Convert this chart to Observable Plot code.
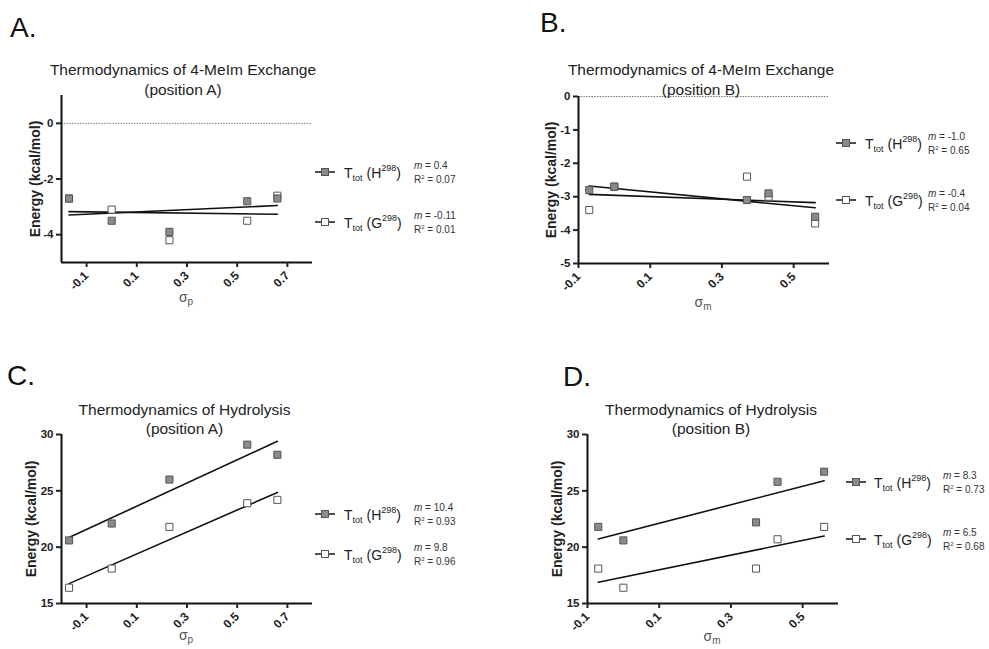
<!DOCTYPE html>
<html><head><meta charset="utf-8">
<script src="https://cdn.jsdelivr.net/npm/d3@7"></script>
<script src="https://cdn.jsdelivr.net/npm/@observablehq/plot@0.6"></script>
<style>
body{margin:0;background:#fff;}
#wrap{position:relative;width:989px;height:649px;overflow:hidden;font-family:"Liberation Sans",Arial,sans-serif;background:#fff;}
#wrap > svg{position:absolute;}
</style></head><body><div id="wrap"></div>
<script>
// ---- data ----
const sigmaP = [-0.17, 0, 0.23, 0.54, 0.66];
const sigmaM = [-0.07, 0, 0.37, 0.43, 0.56];
const exchA_H = [-2.7, -3.5, -3.9, -2.8, -2.7];
const exchA_G = [-2.7, -3.1, -4.2, -3.5, -2.6];
const exchB_H = [-2.8, -2.7, -3.1, -2.9, -3.6];
const exchB_G = [-3.4, -2.7, -2.4, -3.0, -3.8];
const hydA_H = [20.6, 22.1, 26.0, 29.1, 28.2];
const hydA_G = [16.4, 18.1, 21.8, 23.9, 24.2];
const hydB_H = [21.8, 20.6, 22.2, 25.8, 26.7];
const hydB_G = [18.1, 16.4, 18.1, 20.7, 21.8];

const ticksSigmaP = [-0.1, 0.1, 0.3, 0.5, 0.7];
const ticksSigmaM = [-0.1, 0.1, 0.3, 0.5];
const ticksExchA = [0, -2, -4];
const ticksExchB = [0, -1, -2, -3, -4, -5];
const ticksHyd = [15, 20, 25, 30];

const panelLetters = ["A.", "B.", "C.", "D."];
const titleLine1 = ["Thermodynamics of 4-MeIm Exchange", "Thermodynamics of 4-MeIm Exchange", "Thermodynamics of Hydrolysis", "Thermodynamics of Hydrolysis"];
const titleLine2 = ["(position A)", "(position B)", "(position A)", "(position B)"];
const xSubs = ["p", "m", "p", "m"];
const yLabel = "Energy (kcal/mol)";
const legendM_H = ["0.4", "-1.0", "10.4", "8.3"];
const legendR2_H = ["0.07", "0.65", "0.93", "0.73"];
const legendM_G = ["-0.11", "-0.4", "9.8", "6.5"];
const legendR2_G = ["0.01", "0.04", "0.96", "0.68"];

// ---- layout ----
const panels = [
  {x: sigmaP, H: exchA_H, G: exchA_G, xDomain: [-0.2, 0.8], xTicks: ticksSigmaP, yDomain: [-5, 1], yTicks: ticksExchA, zero: true,
   left: 0, top: 80, width: 330, height: 240, ml: 61, mt: 15, mb: 58, mr: 18, yDx: -25.5,
   letter: [10, 37], title: [183, 70, 90], xlab: [186, 298], leg: {sym: 315, text: 344, stats: 414, yH: 172, yG: 222}},
  {x: sigmaM, H: exchB_H, G: exchB_G, xDomain: [-0.1, 0.6], xTicks: ticksSigmaM, yDomain: [-5, 0], yTicks: ticksExchB, zero: true,
   left: 500, top: 80, width: 340, height: 240, ml: 78, mt: 16, mb: 57, mr: 11, yDx: -27,
   letter: [540, 32], title: [701, 70, 90], xlab: [703, 303], leg: {sym: 836, text: 865, stats: 928, yH: 143, yG: 200}},
  {x: sigmaP, H: hydA_H, G: hydA_G, xDomain: [-0.2, 0.8], xTicks: ticksSigmaP, yDomain: [15, 30], yTicks: ticksHyd, zero: false,
   left: 0, top: 420, width: 330, height: 229, ml: 61, mt: 14, mb: 46, mr: 18, yDx: -30,
   letter: [7, 385], title: [184.5, 410, 429], xlab: [186, 636], leg: {sym: 315, text: 344, stats: 414, yH: 514, yG: 554}},
  {x: sigmaM, H: hydB_H, G: hydB_G, xDomain: [-0.1, 0.6], xTicks: ticksSigmaM, yDomain: [15, 30], yTicks: ticksHyd, zero: false,
   left: 500, top: 420, width: 340, height: 229, ml: 87, mt: 14, mb: 46, mr: 2, yDx: -30,
   letter: [563, 386], title: [711, 410, 429], xlab: [712, 637], leg: {sym: 846, text: 874, stats: 943, yH: 482, yG: 539}}
];

const FONT = '"Liberation Sans", Arial, sans-serif';
const wrap = document.getElementById("wrap");

function makePanel(cfg) {
  const H = cfg.x.map((x, i) => ({x, y: cfg.H[i]}));
  const G = cfg.x.map((x, i) => ({x, y: cfg.G[i]}));
  const marks = [];
  if (cfg.zero) marks.push(Plot.ruleY([0], {stroke: "#777", strokeWidth: 1, strokeDasharray: "1.5,1.2"}));
  marks.push(
    Plot.linearRegressionY(H, {x: "x", y: "y", ci: 0, stroke: "#111", strokeWidth: 1.6}),
    Plot.linearRegressionY(G, {x: "x", y: "y", ci: 0, stroke: "#111", strokeWidth: 1.6}),
    Plot.dot(G, {x: "x", y: "y", symbol: "square", r: 4, fill: "white", stroke: "#555", strokeWidth: 1}),
    Plot.dot(H, {x: "x", y: "y", symbol: "square", r: 4, fill: "#8a8a8a", stroke: "#555", strokeWidth: 1}),
    Plot.ruleX([cfg.xDomain[0]], {stroke: "#111", strokeWidth: 2}),
    Plot.ruleY([cfg.yDomain[0]], {stroke: "#111", strokeWidth: 2}),
    Plot.axisX({ticks: cfg.xTicks, tickFormat: d => d.toFixed(1), tickRotate: -45, tickSize: 5, strokeWidth: 2,
      tickPadding: 6, fontWeight: "bold", fontSize: 12, label: null}),
    Plot.axisY({ticks: cfg.yTicks, tickFormat: d => String(d), tickSize: 5, strokeWidth: 2, tickPadding: 3,
      fontWeight: "bold", fontSize: 11.5, label: null}),
    Plot.text([yLabel], {text: d => d, frameAnchor: "left", rotate: -90, dx: cfg.yDx, textAnchor: "middle",
      fontWeight: "bold", fontSize: 14})
  );
  const svg = Plot.plot({
    width: cfg.width, height: cfg.height,
    marginLeft: cfg.ml, marginTop: cfg.mt, marginBottom: cfg.mb, marginRight: cfg.mr,
    x: {domain: cfg.xDomain}, y: {domain: cfg.yDomain},
    style: {background: "transparent", overflow: "visible", fontFamily: FONT, fontSize: "11px", color: "#222"},
    marks
  });
  svg.style.position = "absolute";
  svg.style.left = cfg.left + "px";
  svg.style.top = cfg.top + "px";
  wrap.appendChild(svg);
}
panels.forEach(makePanel);

// ---- annotations ----
const ov = d3.select(wrap).append("svg")
  .attr("width", 989).attr("height", 649)
  .style("left", "0px").style("top", "0px")
  .attr("font-family", FONT);

function legendRow(x0, textX, statsX, y, fill, letter, m, r2) {
  ov.append("line").attr("x1", x0).attr("x2", x0 + 20).attr("y1", y).attr("y2", y)
    .attr("stroke", "#222").attr("stroke-width", 1.6);
  ov.append("rect").attr("x", x0 + 6.5).attr("y", y - 3.5).attr("width", 7).attr("height", 7)
    .attr("fill", fill).attr("stroke", "#555").attr("stroke-width", 1);
  const t = ov.append("text").attr("x", textX).attr("y", y + 6).attr("font-size", 14).attr("fill", "#222");
  t.append("tspan").text("T");
  t.append("tspan").attr("font-size", 9).attr("dy", 3).text("tot");
  t.append("tspan").attr("dy", -3).text(" (" + letter);
  t.append("tspan").attr("font-size", 9).attr("dy", -7).text("298");
  t.append("tspan").attr("dy", 7).text(")");
  const s1 = ov.append("text").attr("x", statsX).attr("y", y - 3).attr("font-size", 10).attr("fill", "#333");
  s1.append("tspan").attr("font-style", "italic").text("m");
  s1.append("tspan").text(" = " + m);
  const s2 = ov.append("text").attr("x", statsX).attr("y", y + 11).attr("font-size", 10).attr("fill", "#333");
  s2.append("tspan").text("R");
  s2.append("tspan").attr("font-size", 6).attr("dy", -4).text("2");
  s2.append("tspan").attr("dy", 4).text(" = " + r2);
}

panels.forEach((p, i) => {
  ov.append("text").attr("x", p.letter[0]).attr("y", p.letter[1]).attr("font-size", 28).attr("fill", "#111")
    .text(panelLetters[i]);
  ov.append("text").attr("x", p.title[0]).attr("y", p.title[1]).attr("dy", "0.35em").attr("text-anchor", "middle")
    .attr("font-size", 15.5).attr("fill", "#222").text(titleLine1[i]);
  ov.append("text").attr("x", p.title[0]).attr("y", p.title[2]).attr("dy", "0.35em").attr("text-anchor", "middle")
    .attr("font-size", 15.5).attr("fill", "#222").text(titleLine2[i]);
  const xl = ov.append("text").attr("x", p.xlab[0]).attr("y", p.xlab[1] + 4).attr("text-anchor", "middle")
    .attr("font-size", 14).attr("fill", "#555");
  xl.append("tspan").text("σ");
  xl.append("tspan").attr("font-size", 10).attr("dy", 3).text(xSubs[i]);
  legendRow(p.leg.sym, p.leg.text, p.leg.stats, p.leg.yH, "#8a8a8a", "H", legendM_H[i], legendR2_H[i]);
  legendRow(p.leg.sym, p.leg.text, p.leg.stats, p.leg.yG, "white", "G", legendM_G[i], legendR2_G[i]);
});
</script></body></html>
